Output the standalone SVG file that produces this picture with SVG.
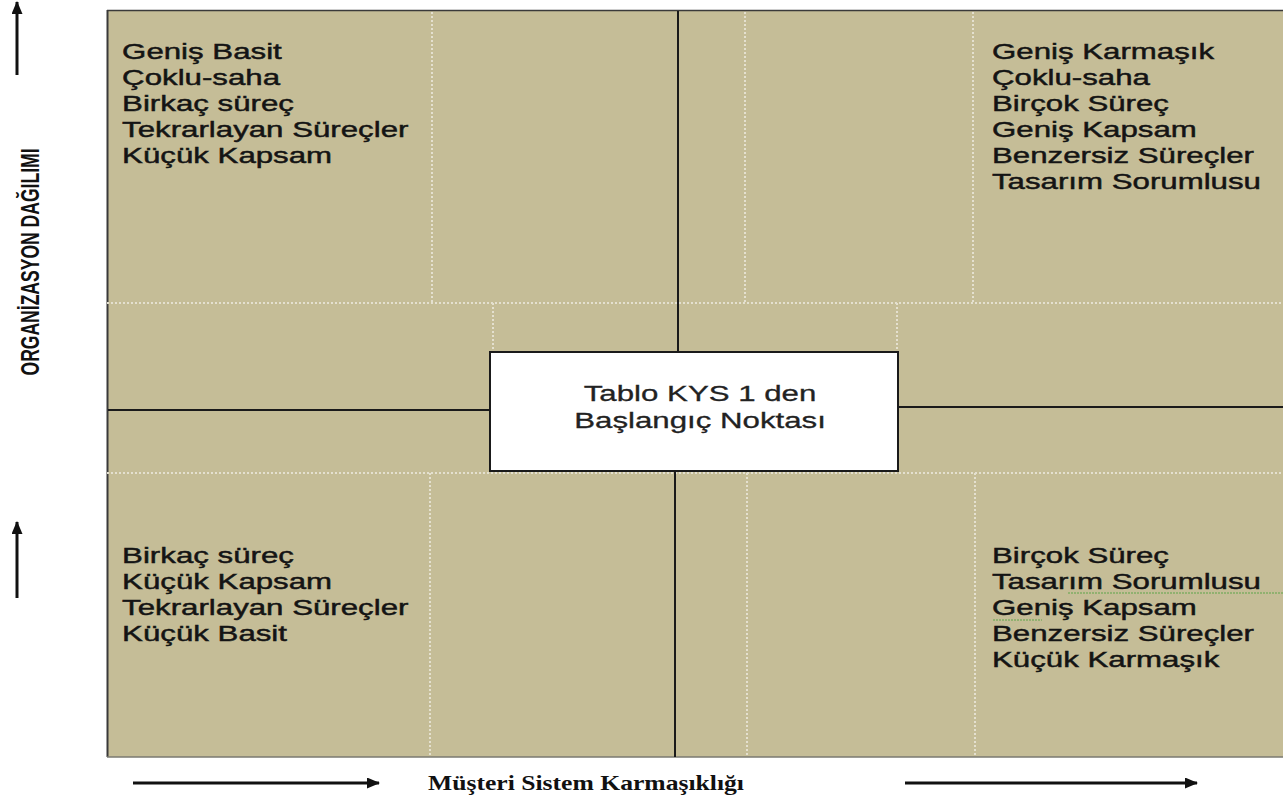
<svg xmlns="http://www.w3.org/2000/svg" width="1283" height="803" viewBox="0 0 1283 803">
<style>
.q{font-family:"Liberation Sans",Arial,sans-serif;font-size:22px;fill:#141414;stroke:#141414;stroke-width:0.45}
.c{font-family:"Liberation Sans",Arial,sans-serif;font-size:22px;fill:#222;stroke:#222;stroke-width:0.3;text-anchor:middle}
.dot{stroke:#e4e0cf;stroke-width:2;stroke-dasharray:2 2;fill:none}
.ln{stroke:#1a1a1a;stroke-width:2;fill:none}
.ax{stroke:#111;stroke-width:3;fill:none}
</style>
<defs>
<marker id="ah" viewBox="0 0 13 11" refX="12" refY="5.5" markerWidth="13" markerHeight="11" markerUnits="userSpaceOnUse" orient="auto">
<path d="M0,0 L13,5.5 L0,11 Z" fill="#111"/>
</marker>
</defs>
<rect width="1283" height="803" fill="#ffffff"/>
<g id="frame">
<rect x="107" y="10" width="1180" height="747" fill="#c5bd97"/>
<line x1="107" y1="10.5" x2="1283" y2="10.5" stroke="#3a3a3a" stroke-width="1.5"/>
<line x1="107.5" y1="10" x2="107.5" y2="757" stroke="#3a3a3a" stroke-width="2"/>
<line x1="107" y1="757" x2="1283" y2="757" stroke="#7a7a70" stroke-width="1.5"/>
</g>
<g id="grid">
<line class="dot" x1="107" y1="303" x2="1283" y2="303"/>
<line class="dot" x1="107" y1="473" x2="1283" y2="473"/>
<line class="dot" x1="432" y1="12" x2="432" y2="303"/>
<line class="dot" x1="745" y1="12" x2="745" y2="303"/>
<line class="dot" x1="973" y1="12" x2="973" y2="303"/>
<line class="dot" x1="493" y1="303" x2="493" y2="352"/>
<line class="dot" x1="897" y1="303" x2="897" y2="352"/>
<line class="dot" x1="430" y1="473" x2="430" y2="756"/>
<line class="dot" x1="747" y1="473" x2="747" y2="756"/>
<line class="dot" x1="975" y1="473" x2="975" y2="756"/>
</g>
<g id="connectors">
<line class="ln" x1="678" y1="11" x2="678" y2="352"/>
<line class="ln" x1="675" y1="471" x2="675" y2="757"/>
<line class="ln" x1="108" y1="410" x2="490" y2="410"/>
<line class="ln" x1="898" y1="407" x2="1283" y2="407"/>
<line class="ax" x1="17" y1="75" x2="17" y2="2" marker-end="url(#ah)"/>
<line class="ax" x1="17" y1="598" x2="17" y2="522" marker-end="url(#ah)"/>
<line class="ax" x1="133" y1="783" x2="379" y2="783" marker-end="url(#ah)"/>
<line class="ax" x1="905" y1="783" x2="1197" y2="783" marker-end="url(#ah)"/>
</g>
<g id="center-box">
<rect x="490" y="352" width="408" height="119" fill="#ffffff" stroke="#1a1a1a" stroke-width="2"/>
<g transform="scale(1.42,1)">
<text class="c" x="493" y="401">Tablo KYS 1 den</text>
<text class="c" x="493" y="428">Başlangıç Noktası</text>
</g>
</g>
<g id="quadrant-top-left" transform="scale(1.42,1)">
<text class="q" x="86" y="59">Geniş Basit</text>
<text class="q" x="86" y="85">Çoklu-saha</text>
<text class="q" x="86" y="111">Birkaç süreç</text>
<text class="q" x="86" y="137">Tekrarlayan Süreçler</text>
<text class="q" x="86" y="163">Küçük Kapsam</text>
</g>
<g id="quadrant-top-right" transform="scale(1.42,1)">
<text class="q" x="698.6" y="59">Geniş Karmaşık</text>
<text class="q" x="698.6" y="85">Çoklu-saha</text>
<text class="q" x="698.6" y="111">Birçok Süreç</text>
<text class="q" x="698.6" y="137">Geniş Kapsam</text>
<text class="q" x="698.6" y="163">Benzersiz Süreçler</text>
<text class="q" x="698.6" y="189">Tasarım Sorumlusu</text>
</g>
<g id="quadrant-bottom-left" transform="scale(1.42,1)">
<text class="q" x="86" y="563">Birkaç süreç</text>
<text class="q" x="86" y="589">Küçük Kapsam</text>
<text class="q" x="86" y="615">Tekrarlayan Süreçler</text>
<text class="q" x="86" y="641">Küçük Basit</text>
</g>
<g id="quadrant-bottom-right">
<g transform="scale(1.42,1)">
<text class="q" x="698.6" y="563">Birçok Süreç</text>
<text class="q" x="698.6" y="589">Tasarım Sorumlusu</text>
<text class="q" x="698.6" y="615">Geniş Kapsam</text>
<text class="q" x="698.6" y="641">Benzersiz Süreçler</text>
<text class="q" x="698.6" y="667">Küçük Karmaşık</text>
</g>
<line x1="1068" y1="593" x2="1283" y2="593" stroke="#5fa64a" stroke-width="1.2" stroke-dasharray="2 1"/>
<line x1="993" y1="620" x2="1042" y2="620" stroke="#5fa64a" stroke-width="1.2" stroke-dasharray="2 1"/>
</g>
<g id="y-axis-label">
<text x="0" y="0" transform="translate(39,262) scale(1.42,1) rotate(-90)" font-family="'Liberation Sans',Arial,sans-serif" font-weight="bold" font-size="17.5" fill="#111" text-anchor="middle" textLength="227" lengthAdjust="spacingAndGlyphs">ORGANİZASYON DAĞILIMI</text>
</g>
<g id="x-axis-label">
<text x="586" y="790" font-family="'Liberation Serif','Times New Roman',serif" font-weight="bold" font-size="21" fill="#111" text-anchor="middle" textLength="316" lengthAdjust="spacingAndGlyphs">Müşteri Sistem Karmaşıklığı</text>
</g>
</svg>
